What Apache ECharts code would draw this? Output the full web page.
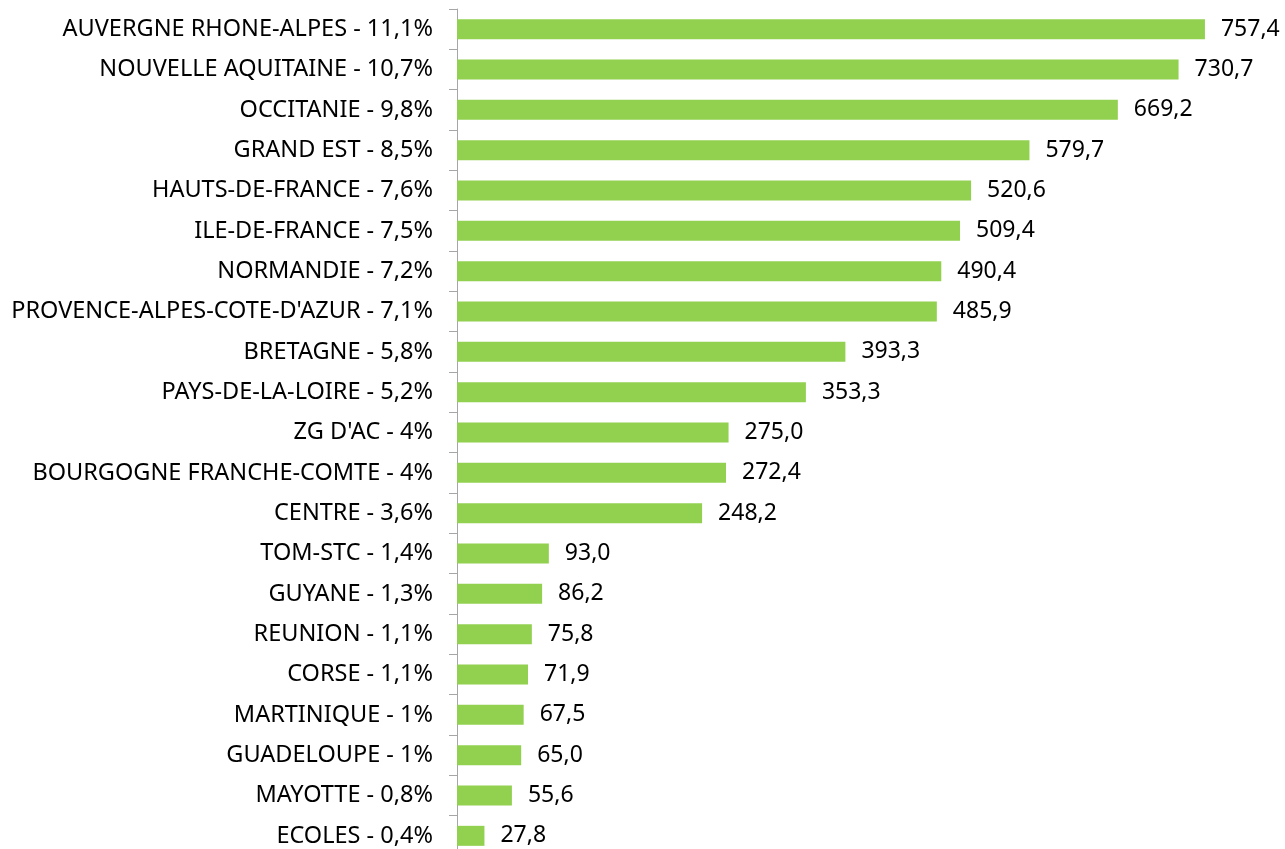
<!DOCTYPE html>
<html><head><meta charset="utf-8">
<script src="https://cdn.jsdelivr.net/npm/echarts@6/dist/echarts.min.js"></script>
<style>html,body{margin:0;padding:0;background:#fff}#c{width:1285px;height:849px}</style>
</head><body><div id="c"></div>
<script>
const categories = ["AUVERGNE RHONE-ALPES - 11,1%","NOUVELLE AQUITAINE - 10,7%","OCCITANIE - 9,8%","GRAND EST - 8,5%","HAUTS-DE-FRANCE - 7,6%","ILE-DE-FRANCE - 7,5%","NORMANDIE - 7,2%","PROVENCE-ALPES-COTE-D'AZUR - 7,1%","BRETAGNE - 5,8%","PAYS-DE-LA-LOIRE - 5,2%","ZG D'AC - 4%","BOURGOGNE FRANCHE-COMTE - 4%","CENTRE - 3,6%","TOM-STC - 1,4%","GUYANE - 1,3%","REUNION - 1,1%","CORSE - 1,1%","MARTINIQUE - 1%","GUADELOUPE - 1%","MAYOTTE - 0,8%","ECOLES - 0,4%"];
const values = [757.4,730.7,669.2,579.7,520.6,509.4,490.4,485.9,393.3,353.3,275.0,272.4,248.2,93.0,86.2,75.8,71.9,67.5,65.0,55.6,27.8];
const chart = echarts.init(document.getElementById('c'));
chart.setOption({
  animation:false,
  grid:{left:457,top:9,width:790,height:847,containLabel:false,outerBoundsMode:'none'},
  xAxis:{type:'value',min:0,max:800,show:false},
  yAxis:{type:'category',data:categories,inverse:true,
    axisLine:{show:true,lineStyle:{color:'#a6a6a6',width:1}},
    axisTick:{show:true,length:8,lineStyle:{color:'#a6a6a6'}},
    axisLabel:{color:'#000',fontSize:23.5,fontFamily:'Noto Sans',margin:24}},
  series:[{type:'bar',data:values,barWidth:20,itemStyle:{color:'#92d050'},
    label:{show:true,position:'right',distance:16,color:'#000',fontSize:23,fontFamily:'Noto Sans',
      formatter:p=>p.value.toFixed(1).replace('.',',')}}]
});
</script></body></html>
